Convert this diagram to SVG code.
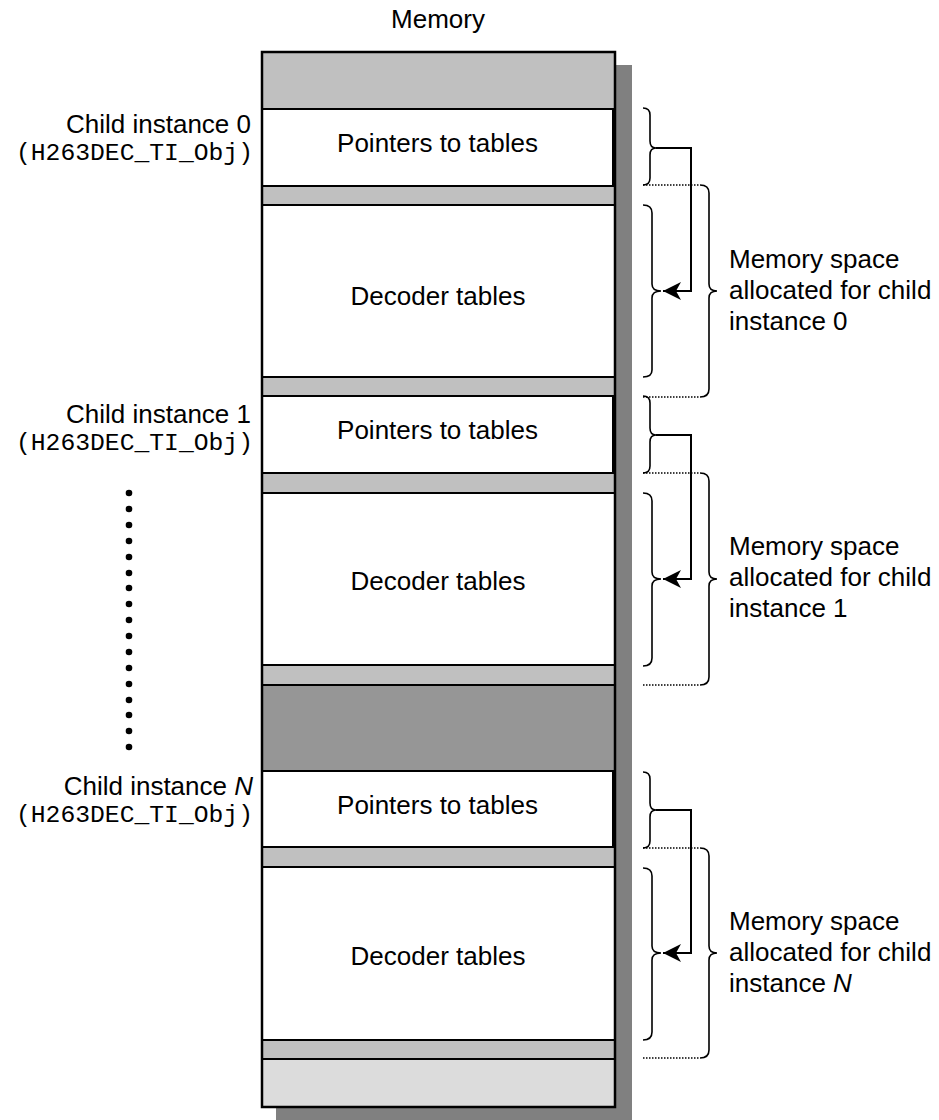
<svg xmlns="http://www.w3.org/2000/svg" width="939" height="1120" viewBox="0 0 939 1120">
<style>
.t{font-family:"Liberation Sans",Arial,sans-serif;font-size:26px;fill:#000}
.m{font-family:"Liberation Mono","Courier New",monospace;font-size:24.7px;fill:#000}
.c{text-anchor:middle}
.e{text-anchor:end}
.band{stroke:#000;stroke-width:2}
.br{fill:none;stroke:#000;stroke-width:1.6}
.ln{fill:none;stroke:#000;stroke-width:2}
.dot{fill:none;stroke:#000;stroke-width:1.5;stroke-dasharray:1.5 1.5}
</style>
<defs>
<marker id="ah" markerWidth="20" markerHeight="20" refX="19" refY="10" orient="auto" markerUnits="userSpaceOnUse">
<path d="M19,10 L1,1 L6,10 L1,19 Z" fill="#000"/>
</marker>
</defs>
<rect width="939" height="1120" fill="#fff"/>
<text class="t c" x="438" y="28">Memory</text>
<g id="shadow">
<rect x="615" y="65" width="17" height="1055" fill="#808080"/>
<rect x="276" y="1107" width="356" height="13" fill="#808080"/>
</g>
<g id="memory">
<rect class="band" x="262" y="52" width="353" height="57" fill="#c0c0c0"/>
<rect class="band" x="262" y="186" width="353" height="19" fill="#c0c0c0"/>
<rect class="band" x="262" y="377" width="353" height="19" fill="#c0c0c0"/>
<rect class="band" x="262" y="473" width="353" height="20" fill="#c0c0c0"/>
<rect class="band" x="262" y="665" width="353" height="20" fill="#c0c0c0"/>
<rect class="band" x="262" y="685" width="353" height="86" fill="#969696"/>
<rect class="band" x="262" y="847" width="353" height="20" fill="#c0c0c0"/>
<rect class="band" x="262" y="1040" width="353" height="19" fill="#c0c0c0"/>
<rect class="band" x="262" y="1059" width="353" height="48" fill="#dcdcdc"/>
</g>
<g id="ptr0"><rect class="band" x="262" y="109" width="351" height="77" fill="#fff"/><text class="t c" x="437.5" y="152">Pointers to tables</text></g>
<g id="dec0"><rect class="band" x="262" y="205" width="353" height="172" fill="#fff"/><text class="t c" x="438" y="305">Decoder tables</text></g>
<g id="ptr1"><rect class="band" x="262" y="396" width="351" height="77" fill="#fff"/><text class="t c" x="437.5" y="439">Pointers to tables</text></g>
<g id="dec1"><rect class="band" x="262" y="493" width="353" height="172" fill="#fff"/><text class="t c" x="438" y="590">Decoder tables</text></g>
<g id="ptrN"><rect class="band" x="262" y="771" width="351" height="76" fill="#fff"/><text class="t c" x="437.5" y="814">Pointers to tables</text></g>
<g id="decN"><rect class="band" x="262" y="867" width="353" height="173" fill="#fff"/><text class="t c" x="438" y="965">Decoder tables</text></g>
<rect x="262" y="52" width="353" height="1055" fill="none" stroke="#000" stroke-width="2.5"/>
<g id="label0"><text class="t e" x="251" y="133">Child instance 0</text><text class="m e" x="253" y="160">(H263DEC_TI_Obj)</text></g>
<g id="label1"><text class="t e" x="251" y="423">Child instance 1</text><text class="m e" x="253" y="450">(H263DEC_TI_Obj)</text></g>
<g id="labelN"><text class="t e" x="253" y="795">Child instance <tspan font-style="italic">N</tspan></text><text class="m e" x="253" y="822">(H263DEC_TI_Obj)</text></g>
<g id="ellipsis" fill="#000">
<circle cx="129" cy="493" r="3.3"/><circle cx="129" cy="509" r="3.3"/><circle cx="129" cy="525" r="3.3"/><circle cx="129" cy="541" r="3.3"/><circle cx="129" cy="557" r="3.3"/><circle cx="129" cy="573" r="3.3"/><circle cx="129" cy="588" r="3.3"/><circle cx="129" cy="604" r="3.3"/><circle cx="129" cy="620" r="3.3"/><circle cx="129" cy="636" r="3.3"/><circle cx="129" cy="652" r="3.3"/><circle cx="129" cy="668" r="3.3"/><circle cx="129" cy="684" r="3.3"/><circle cx="129" cy="700" r="3.3"/><circle cx="129" cy="715" r="3.3"/><circle cx="129" cy="731" r="3.3"/><circle cx="129" cy="747" r="3.3"/>
</g>
<g id="braces">
<path class="br" d="M643,108 Q650,108 650,115 L650,141 Q650,148 656,148 Q650,148 650,155 L650,178 Q650,185 643,185"/>
<path class="br" d="M643,205 Q652,205 652,213 L652,284 Q652,291 661,291 Q652,291 652,298 L652,370 Q652,377 643,377"/>
<path class="br" d="M700,185 Q709,185 709,193 L709,284 Q709,291 717,291 Q709,291 709,298 L709,389 Q709,397 700,397"/>
<path class="br" d="M643,396 Q650,396 650,403 L650,428 Q650,435 656,435 Q650,435 650,442 L650,466 Q650,473 643,473"/>
<path class="br" d="M643,493 Q652,493 652,501 L652,572 Q652,579 661,579 Q652,579 652,586 L652,658 Q652,666 643,666"/>
<path class="br" d="M700,473 Q709,473 709,481 L709,572 Q709,579 717,579 Q709,579 709,586 L709,677 Q709,685 700,685"/>
<path class="br" d="M643,772 Q650,772 650,779 L650,803 Q650,810 656,810 Q650,810 650,817 L650,841 Q650,848 643,848"/>
<path class="br" d="M643,868 Q652,868 652,876 L652,946 Q652,953 661,953 Q652,953 652,960 L652,1032 Q652,1040 643,1040"/>
<path class="br" d="M700,848 Q709,848 709,856 L709,946 Q709,953 717,953 Q709,953 709,960 L709,1050 Q709,1058 700,1058"/>
</g>
<g id="connectors">
<path class="ln" d="M656,148 H691 V291 H663" marker-end="url(#ah)"/>
<path class="ln" d="M656,435 H691 V579 H663" marker-end="url(#ah)"/>
<path class="ln" d="M656,810 H691 V953 H663" marker-end="url(#ah)"/>
<path class="dot" d="M643,185 H700 M643,397 H700 M643,473 H700 M643,685 H700 M643,848 H700 M643,1058 H700"/>
</g>
<g id="note0"><text class="t" x="729" y="268">Memory space</text><text class="t" x="729" y="299">allocated for child</text><text class="t" x="729" y="330">instance 0</text></g>
<g id="note1"><text class="t" x="729" y="555">Memory space</text><text class="t" x="729" y="586">allocated for child</text><text class="t" x="729" y="617">instance 1</text></g>
<g id="noteN"><text class="t" x="729" y="930">Memory space</text><text class="t" x="729" y="961">allocated for child</text><text class="t" x="729" y="992">instance <tspan font-style="italic">N</tspan></text></g>
</svg>
